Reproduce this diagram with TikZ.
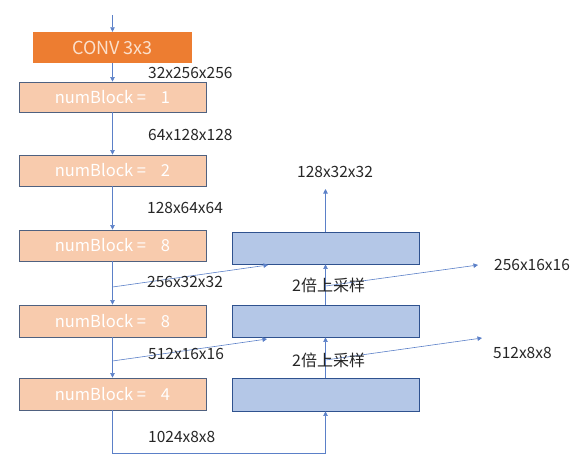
\documentclass[tikz,border=0pt]{standalone}
\usepackage{fontspec}
\setmainfont{Noto Sans CJK SC}
\usetikzlibrary{arrows.meta}
\definecolor{convfill}{HTML}{ED7D31}
\definecolor{convtext}{HTML}{FBE0CC}
\definecolor{peach}{HTML}{F8CBAD}
\definecolor{peachline}{HTML}{4F6180}
\definecolor{bluefill}{HTML}{B4C7E7}
\definecolor{blueline}{HTML}{2F528F}
\definecolor{linkcol}{HTML}{5B80C8}
\definecolor{labcol}{HTML}{262626}
\tikzset{
  convbox/.style={fill=convfill,draw=none,minimum width=159pt,minimum height=31pt,inner sep=0pt,text=convtext,font=\fontsize{18}{20}\selectfont},
  pbox/.style={fill=peach,draw=peachline,line width=0.8pt,minimum width=187pt,inner sep=0pt,text=white,font=\fontsize{16.5}{19}\selectfont},
  ubox/.style={fill=bluefill,draw=blueline,line width=0.8pt,minimum width=187pt,inner sep=0pt},
  arr/.style={draw=linkcol,line width=0.6pt,-{Triangle[width=4.5pt,length=4.5pt]}},
  lab/.style={text=labcol,inner sep=0pt,font=\fontsize{15.5}{18}\selectfont},
  cjklab/.style={text=labcol,inner sep=0pt,font=\fontsize{16}{18}\selectfont},
}
\newcommand{\nb}[1]{numBlock =\hspace{0.9em}#1}
\begin{document}
\begin{tikzpicture}[x=1pt,y=-1pt]
\useasboundingbox (0,0) rectangle (581,475);
% left column
\node[convbox] (conv) at (112.5,47.5) {CONV 3x3};
\node[pbox,minimum height=30pt] (b1) at (112.5,97) {\nb{1}};
\node[pbox,minimum height=31pt] (b2) at (112.5,170.5) {\nb{2}};
\node[pbox,minimum height=31pt] (b3) at (112.5,245.5) {\nb{8}};
\node[pbox,minimum height=32pt] (b4) at (112.5,321) {\nb{8}};
\node[pbox,minimum height=32pt] (b5) at (112.5,394) {\nb{4}};
% right column
\node[ubox,minimum height=32pt] (u1) at (325.5,248) {};
\node[ubox,minimum height=32pt] (u2) at (325.5,321) {};
\node[ubox,minimum height=33pt] (u3) at (325.5,394.5) {};
% coordinates
\coordinate (in) at (112.5,15);
\coordinate (low) at (112.5,453);
\coordinate (out) at (325.5,189);
\coordinate (d1s) at (112.5,287);
\coordinate (d1e) at (268,265);
\coordinate (d2s) at (325.5,286);
\coordinate (d2e) at (478,265);
\coordinate (d3s) at (112.5,361);
\coordinate (d3e) at (267,339);
\coordinate (d4s) at (325.5,360);
\coordinate (d4e) at (482,338);
% connectors
\draw[arr] (in) -- (conv.north);
\draw[arr] (conv.south) -- (b1.north);
\draw[arr] (b1.south) -- (b2.north);
\draw[arr] (b2.south) -- (b3.north);
\draw[arr] (b3.south) -- (b4.north);
\draw[arr] (b4.south) -- (b5.north);
\draw[arr] (b5.south) -- (low) -| (u3.south);
\draw[arr] (u3.north) -- (u2.south);
\draw[arr] (u2.north) -- (u1.south);
\draw[arr] (u1.north) -- (out);
\draw[arr] (d1s) -- (d1e);
\draw[arr] (d2s) -- (d2e);
\draw[arr] (d3s) -- (d3e);
\draw[arr] (d4s) -- (d4e);
% labels
\node[lab,anchor=west] (l1) at (148,73) {32x256x256};
\node[lab,anchor=west] (l2) at (148,135) {64x128x128};
\node[lab,anchor=west] (l3) at (147,208) {128x64x64};
\node[lab,anchor=west] (l4) at (147,282) {256x32x32};
\node[lab,anchor=west] (l5) at (148,354) {512x16x16};
\node[lab,anchor=west] (l6) at (148,437) {1024x8x8};
\node[lab,anchor=west] (l7) at (297,172) {128x32x32};
\node[lab,anchor=west] (l8) at (494,265) {256x16x16};
\node[lab,anchor=west] (l9) at (493,353) {512x8x8};
\node[cjklab,anchor=west] (s1) at (292,285) {2倍上采样};
\node[cjklab,anchor=west] (s2) at (292,360) {2倍上采样};
\end{tikzpicture}
\end{document}
